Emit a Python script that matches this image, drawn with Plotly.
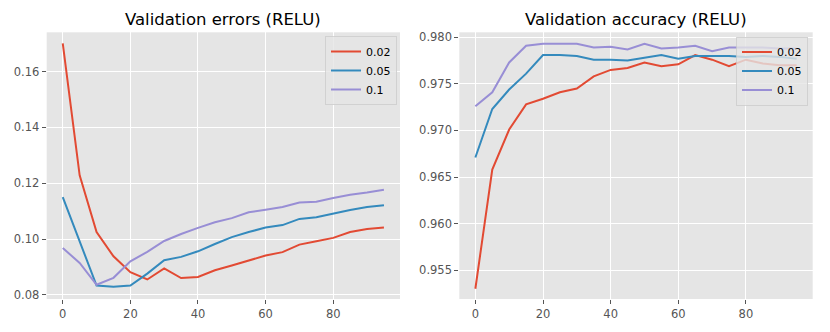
import plotly.graph_objects as go

epochs = list(range(0, 100, 5))
series_names = ["0.02", "0.05", "0.1"]

err_002 = [0.1701, 0.1228, 0.1025, 0.0938, 0.0881, 0.0855, 0.0895, 0.0860, 0.0864, 0.0888,
           0.0905, 0.0924, 0.0941, 0.0953, 0.0980, 0.0992, 0.1004, 0.1025, 0.1036, 0.1041]
err_005 = [0.1150, 0.0990, 0.0833, 0.0829, 0.0833, 0.0876, 0.0924, 0.0936, 0.0956, 0.0982,
           0.1007, 0.1025, 0.1041, 0.1050, 0.1072, 0.1078, 0.1092, 0.1104, 0.1115, 0.1121]
err_01 = [0.0968, 0.0914, 0.0836, 0.0861, 0.0920, 0.0954, 0.0993, 0.1018, 0.1040, 0.1060,
          0.1075, 0.1096, 0.1105, 0.1115, 0.1131, 0.1134, 0.1147, 0.1159, 0.1167, 0.1177]

acc_002 = [0.9530, 0.9658, 0.9701, 0.9728, 0.9734, 0.9741, 0.9745, 0.9758, 0.9765, 0.9767,
           0.9773, 0.9769, 0.9771, 0.9781, 0.9776, 0.9769, 0.9776, 0.9772, 0.9770, 0.9770]
acc_005 = [0.9671, 0.9723, 0.9744, 0.9761, 0.9781, 0.9781, 0.9780, 0.9776, 0.9776, 0.9775,
           0.9778, 0.9781, 0.9777, 0.9780, 0.9780, 0.9780, 0.9779, 0.9780, 0.9779, 0.9777]
acc_01 = [0.9726, 0.9741, 0.9773, 0.9791, 0.9793, 0.9793, 0.9793, 0.9789, 0.9790, 0.9787,
          0.9793, 0.9788, 0.9789, 0.9791, 0.9785, 0.9789, 0.9789, 0.9789, 0.9788, 0.9788]

colors = ["#E24A33", "#348ABD", "#988ED5"]
font = "DejaVu Sans"

# the page body has an 8px margin, so the figure is drawn a little smaller
W, H = 822, 324


def px_x(X):
    return (X - 8) / W


def px_y(Y):
    return 1 - (Y - 8) / H


fig = go.Figure()
for name, ys, c in zip(series_names, [err_002, err_005, err_01], colors):
    fig.add_trace(go.Scatter(x=epochs, y=ys, mode="lines", name=name,
                             line=dict(color=c, width=2), xaxis="x", yaxis="y", legend="legend"))
for name, ys, c in zip(series_names, [acc_002, acc_005, acc_01], colors):
    fig.add_trace(go.Scatter(x=epochs, y=ys, mode="lines", name=name,
                             line=dict(color=c, width=2), xaxis="x2", yaxis="y2", legend="legend2"))

axis_style = dict(showgrid=True, gridcolor="white", gridwidth=1.3, zeroline=False,
                  ticks="outside", ticklen=4, tickcolor="#555555", tickwidth=1, automargin=False,
                  tickfont=dict(family=font, size=11.5, color="#555555"), showline=False)

legend_style = dict(xanchor="right", yanchor="top",
                    bgcolor="rgba(229,229,229,0.8)", bordercolor="rgba(204,204,204,0.8)", borderwidth=1,
                    font=dict(family=font, size=11, color="black"), itemwidth=30, tracegroupgap=0)

ydom = [px_y(299), px_y(32.3)]

fig.update_layout(
    template="none",
    width=W, height=H,
    margin=dict(l=0, r=0, t=0, b=0, autoexpand=False),
    paper_bgcolor="white", plot_bgcolor="#E5E5E5",
    font=dict(family=font),
    xaxis=dict(domain=[px_x(46.7), px_x(400)], range=[-4.75, 99.75], tickvals=[0, 20, 40, 60, 80], anchor="y", **axis_style),
    yaxis=dict(domain=ydom, range=[0.0785, 0.1741], dtick=0.02, tick0=0.08, tickformat=".2f", anchor="x", **axis_style),
    xaxis2=dict(domain=[px_x(459.3), px_x(812.7)], range=[-4.75, 99.75], tickvals=[0, 20, 40, 60, 80], anchor="y2", **axis_style),
    yaxis2=dict(domain=ydom, range=[0.9519, 0.98054], dtick=0.005, tick0=0.955, tickformat=".3f", anchor="x2", **axis_style),
    legend=dict(x=px_x(397), y=px_y(36), **legend_style),
    legend2=dict(x=px_x(808), y=px_y(36.5), **legend_style),
    annotations=[
        dict(text="Validation errors (RELU)", x=px_x((46.7 + 400) / 2), y=px_y(20), xref="paper", yref="paper",
             showarrow=False, xanchor="center", yanchor="middle", font=dict(family=font, size=16.5, color="black")),
        dict(text="Validation accuracy (RELU)", x=px_x((459.3 + 812.7) / 2), y=px_y(20), xref="paper", yref="paper",
             showarrow=False, xanchor="center", yanchor="middle", font=dict(family=font, size=16.5, color="black")),
    ],
)

fig.write_html("out.html")
